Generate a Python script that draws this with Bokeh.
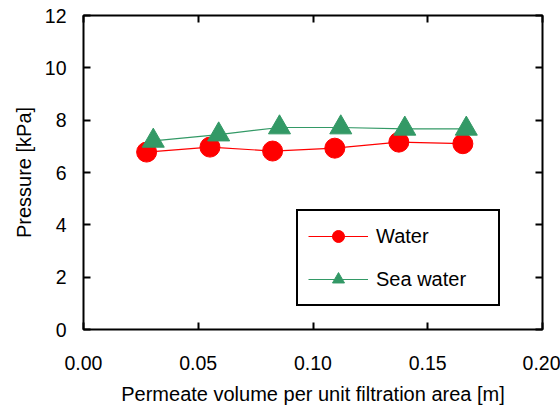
from bokeh.plotting import figure
from bokeh.models import (Range1d, FixedTicker, LinearAxis, NumeralTickFormatter,
                          Legend, LegendItem)
from bokeh.embed import file_html
from bokeh.resources import INLINE

# Data
water_x = [0.0275, 0.0551, 0.0824, 0.1095, 0.1374, 0.1653]
water_y = [6.78, 6.97, 6.82, 6.93, 7.16, 7.10]
sea_x = [0.0304, 0.0589, 0.0854, 0.1121, 0.1400, 0.1668]
sea_y = [7.21, 7.45, 7.72, 7.72, 7.67, 7.67]
x_ticks = [0.0, 0.05, 0.10, 0.15, 0.20]
y_ticks = [0, 2, 4, 6, 8, 10, 12]

FONT = "Liberation Sans"
TICK_FS = "19.5px"
LAB_FS = "20px"

p = figure(width=560, height=408, output_backend="svg", toolbar_location=None,
           x_range=Range1d(0, 0.2), y_range=Range1d(0, 12),
           min_border_left=83, min_border_right=18, min_border_top=15,
           min_border_bottom=79)
p.background_fill_color = "white"
p.border_fill_color = "white"
p.grid.visible = False
p.outline_line_color = "black"
p.outline_line_width = 2

def style(ax, labels=True):
    ax.axis_line_color = None
    ax.major_tick_in = 7
    ax.major_tick_out = 0
    ax.major_tick_line_width = 2
    ax.major_tick_line_color = "black"
    ax.minor_tick_line_color = None
    ax.major_label_text_font = FONT
    ax.major_label_text_color = "black" if labels else None
    ax.major_label_text_font_size = TICK_FS if labels else "1px"
    ax.axis_label_text_font = FONT
    ax.axis_label_text_font_size = LAB_FS
    ax.axis_label_text_font_style = "normal"
    ax.axis_label_text_color = "black"

xax = p.xaxis[0]
yax = p.yaxis[0]
xax.ticker = FixedTicker(ticks=x_ticks)
xax.formatter = NumeralTickFormatter(format="0.00")
yax.ticker = FixedTicker(ticks=y_ticks)
style(xax)
style(yax)
xax.major_label_standoff = 26
yax.major_label_standoff = 17
xax.axis_label = "Permeate volume per unit filtration area [m]"
yax.axis_label = "Pressure [kPa]"
xax.axis_label_standoff = 10
yax.axis_label_standoff = 7

top = LinearAxis(ticker=FixedTicker(ticks=x_ticks))
style(top, labels=False)
top.major_label_standoff = 0
p.add_layout(top, "above")
right = LinearAxis(ticker=FixedTicker(ticks=y_ticks))
style(right, labels=False)
right.major_label_standoff = 0
p.add_layout(right, "right")

l1 = p.line(water_x, water_y, line_color="#FF0000", line_width=1.2)
s1 = p.scatter(water_x, water_y, marker="circle", size=20,
               fill_color="#FF0000", line_color="#FF0000")
l2 = p.line(sea_x, sea_y, line_color="#339966", line_width=1.2)
s2 = p.scatter(sea_x, sea_y, marker="triangle", size=22,
               fill_color="#339966", line_color="#339966")

legend = Legend(items=[LegendItem(label="Water", renderers=[l1, s1]),
                       LegendItem(label="Sea water", renderers=[l2, s2])],
                location=(213, 23), margin=0, padding=10, spacing=13,
                glyph_width=60, glyph_height=30, label_height=30,
                label_width=112, label_standoff=8,
                label_text_font=FONT, label_text_font_size=LAB_FS,
                label_text_color="black",
                border_line_color="black", border_line_width=2,
                border_line_alpha=1,
                background_fill_color="white", background_fill_alpha=1)
p.add_layout(legend, "center")

open("out.html", "w").write(file_html(p, INLINE))
